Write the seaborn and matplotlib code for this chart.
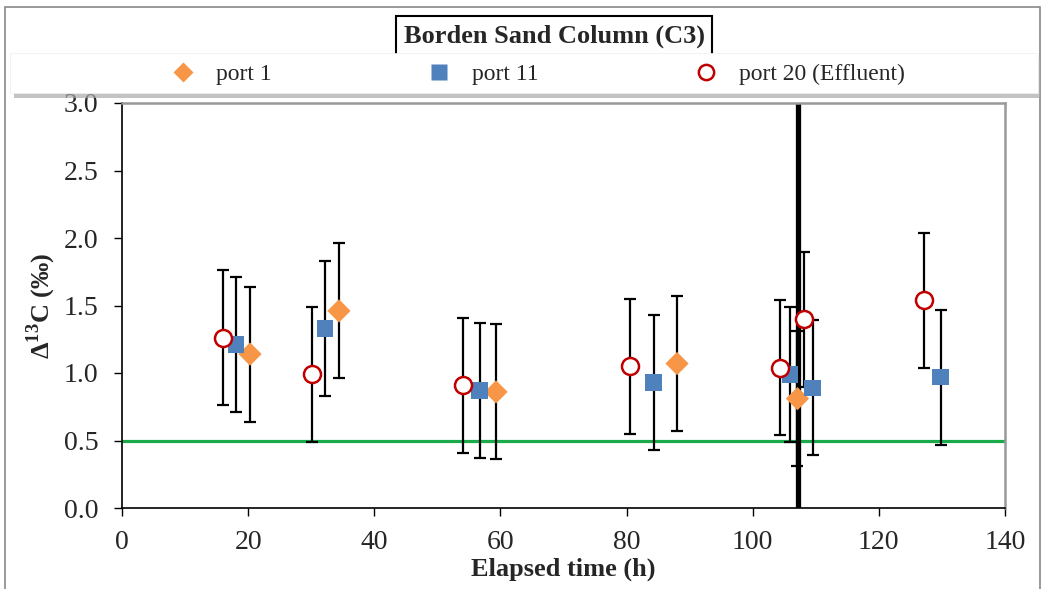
import numpy as np
import pandas as pd
import matplotlib
matplotlib.use("Agg")
import matplotlib.pyplot as plt
from matplotlib.patches import Rectangle
from matplotlib.lines import Line2D
import seaborn as sns

# ---- data ----
port1_t = [20.3, 34.4, 59.3, 88.0, 107.1]
port1_v = [1.14, 1.46, 0.86, 1.07, 0.81]
port11_t = [18.1, 32.2, 56.7, 84.3, 105.9, 109.5, 129.8]
port11_v = [1.21, 1.33, 0.87, 0.93, 0.99, 0.89, 0.97]
port20_t = [16.0, 30.1, 54.0, 80.5, 104.4, 108.2, 127.1]
port20_v = [1.26, 0.99, 0.91, 1.05, 1.04, 1.40, 1.54]
err = 0.5
threshold = 0.5
event_time = 107.2
series_names = ["port 1", "port 11", "port 20 (Effluent)"]
x_ticks = [0, 20, 40, 60, 80, 100, 120, 140]
y_ticks = [0.0, 0.5, 1.0, 1.5, 2.0, 2.5, 3.0]

df = pd.concat([
    pd.DataFrame({"t": port1_t, "v": port1_v, "series": series_names[0]}),
    pd.DataFrame({"t": port11_t, "v": port11_v, "series": series_names[1]}),
    pd.DataFrame({"t": port20_t, "v": port20_v, "series": series_names[2]}),
], ignore_index=True)

sns.set_style("white")
plt.rcParams["font.family"] = ["Liberation Serif", "DejaVu Serif"]
plt.rcParams["mathtext.fontset"] = "custom"
plt.rcParams["mathtext.rm"] = "Liberation Serif"
plt.rcParams["mathtext.bf"] = "Liberation Serif:bold"

fig = plt.figure(figsize=(10.46, 5.89), dpi=100)
W, H = 1046, 589
ax = fig.add_axes([122 / W, 1 - 508 / H, (1005 - 122) / W, (508 - 103) / H])

# outer border
fig.patches.append(Rectangle((5 / W, -0.01), (1040 - 5) / W, 1 - 7 / H + 0.01, transform=fig.transFigure,
                             fill=False, edgecolor="#888888", linewidth=1.2, zorder=0))

# reference lines
ax.axhline(threshold, color="#1aaa4a", linewidth=2.3, zorder=1)
ax.axvline(event_time, color="black", linewidth=3.8, zorder=1)

# error bars
for name in series_names:
    sub = df[df.series == name]
    ax.errorbar(sub.t, sub.v, yerr=err, fmt="none", ecolor="black", elinewidth=1.6,
                capsize=4.5, capthick=1.6, zorder=2)

palette = {"port 1": "#f79646", "port 11": "#4f81bd", "port 20 (Effluent)": "#c00000"}

sub1 = df[df.series == series_names[0]]
sns.scatterplot(x=sub1.t, y=sub1.v, marker="D", s=140, color=palette["port 1"],
                edgecolor="none", ax=ax, zorder=3, legend=False)
sub2 = df[df.series == series_names[1]]
sns.scatterplot(x=sub2.t, y=sub2.v, marker="s", s=140, color=palette["port 11"],
                edgecolor="none", ax=ax, zorder=3, legend=False)
sub3 = df[df.series == series_names[2]]
sns.scatterplot(x=sub3.t, y=sub3.v, marker="o", s=150, facecolors="white",
                edgecolor="#c00000", linewidth=1.8, ax=ax, zorder=3, legend=False)

ax.set_xlim(0, 140)
ax.set_ylim(0, 3.0)
ax.set_xticks(x_ticks)
ax.set_yticks(y_ticks)
ax.set_xticklabels([str(t) for t in x_ticks], fontsize=20)
ax.set_yticklabels([f"{t:.1f}" for t in y_ticks], fontsize=20)
ax.tick_params(axis="both", direction="out", length=6, width=1, color="black",
               left=True, bottom=True)
ax.tick_params(axis="x", pad=10)
ax.tick_params(axis="y", pad=11)
for s in ["left", "bottom"]:
    ax.spines[s].set_color("black")
    ax.spines[s].set_linewidth(1.2)
for s in ["top", "right"]:
    ax.spines[s].set_color("#999999")
    ax.spines[s].set_linewidth(1.8)

ax.set_xlabel("Elapsed time (h)", fontsize=19, fontweight="bold", labelpad=2)
ax.set_ylabel(r"Δ$^{\mathbf{13}}$C (‰)", fontsize=19, fontweight="bold", labelpad=4)

# legend band with shadow
band_y0 = 1 - 93 / H
band_h = 40 / H
fig.patches.append(Rectangle((14 / W, band_y0 - 5 / H), (1040 - 14) / W, band_h, transform=fig.transFigure,
                             facecolor="#aaaaaa", edgecolor="none", alpha=0.7, zorder=1))
fig.patches.append(Rectangle((10 / W, band_y0), (1038 - 10) / W, band_h, transform=fig.transFigure,
                             facecolor="white", edgecolor="#eeeeee", linewidth=0.5, zorder=2))

handles = [
    Line2D([], [], marker="D", linestyle="none", color=palette["port 1"], markersize=10, markeredgecolor="none"),
    Line2D([], [], marker="s", linestyle="none", color=palette["port 11"], markersize=11, markeredgecolor="none"),
    Line2D([], [], marker="o", linestyle="none", markerfacecolor="white",
           markeredgecolor=palette["port 20 (Effluent)"], markeredgewidth=1.8, markersize=11),
]
leg = fig.legend(handles, series_names, loc="center", ncol=3,
                 bbox_to_anchor=(538 / W, band_y0 + band_h / 2 - 1.5 / H),
                 fontsize=17, frameon=False, handlelength=1.0, handletextpad=0.9,
                 columnspacing=6.6, borderpad=0.0)
leg.set_zorder(5)

# title
fig.text(554 / W, 1 - 36 / H, "Borden Sand Column (C3)", ha="center", va="center",
         fontsize=19, fontweight="bold", zorder=0,
         bbox=dict(boxstyle="square,pad=0.3", facecolor="white", edgecolor="black", linewidth=1.5))

fig.savefig("out.png", dpi=100)
